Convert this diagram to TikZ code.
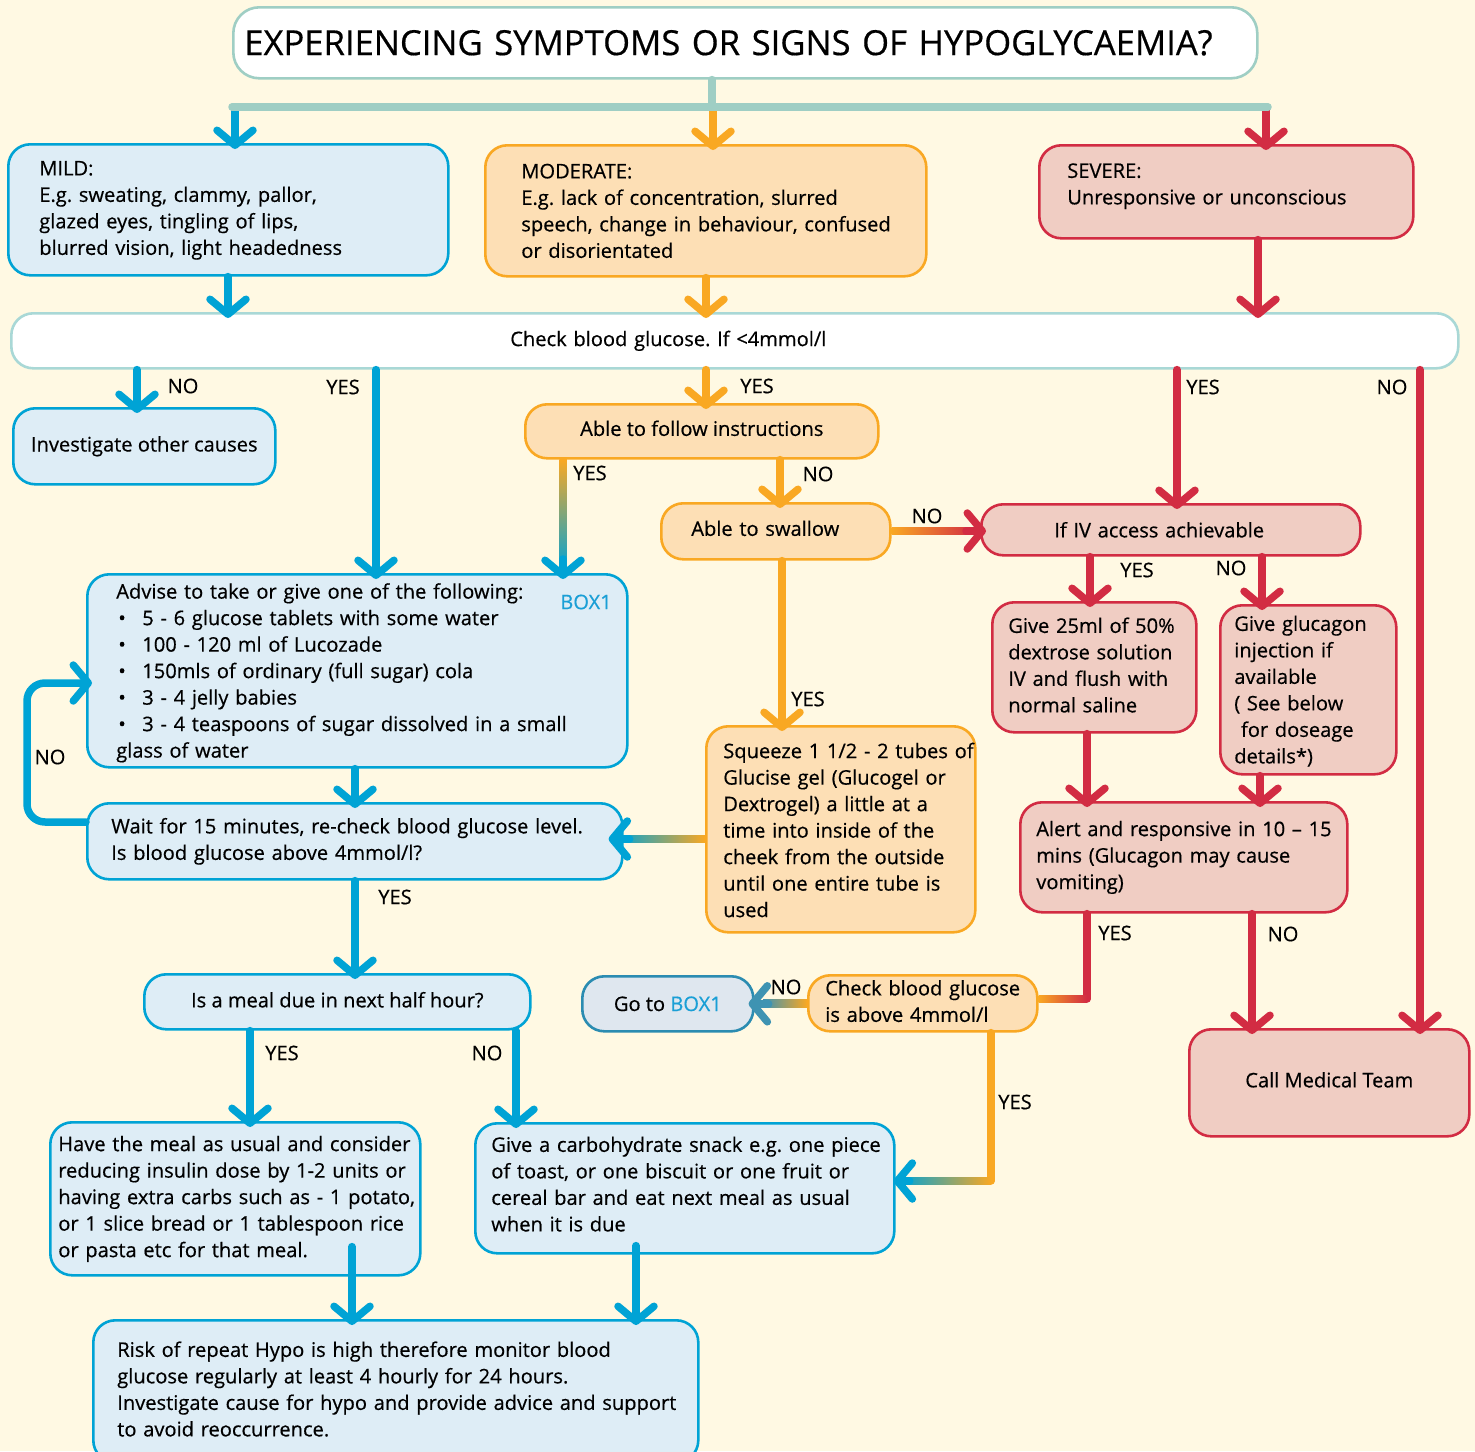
\documentclass[tikz,border=0pt]{standalone}
\usepackage{fontspec}
\setmainfont{Open Sans}[FakeBold=0.5]
\usetikzlibrary{arrows.meta,calc}

\definecolor{paper}{HTML}{FFF9E3}
\definecolor{blueL}{HTML}{00A3D5}
\definecolor{blueF}{HTML}{DEEDF6}
\definecolor{orangeL}{HTML}{F9A823}
\definecolor{orangeF}{HTML}{FDDFB5}
\definecolor{redL}{HTML}{D22C43}
\definecolor{redF}{HTML}{F0CDC3}
\definecolor{tealL}{HTML}{9FCEC4}
\definecolor{barL}{HTML}{A9D8D6}
\definecolor{greyBL}{HTML}{2B8CB1}
\definecolor{greyBF}{HTML}{DFE7EF}
\definecolor{tipB}{HTML}{3E93B2}
\definecolor{boxtext}{HTML}{1A9FD6}

\frenchspacing
\newcommand\txt{\fontsize{20.1}{26.5}\selectfont}
\newcommand\ttl{\fontsize{34.6}{40}\selectfont}
\newcommand\rows[1]{\begin{tabular}{@{}l@{}}#1\end{tabular}}
\newcommand\bul{\makebox[26pt][l]{\hspace{2pt}•}}
% lift text inside a box without changing the box's extent
\newcommand\lift[2]{\raisebox{#1}[\height][\depth]{#2}}

\begin{document}
\begin{tikzpicture}[x=1pt,y=-1pt,
  >={Straight Barb[length=15pt,width=36pt,round]},
  box/.style={line width=2.6pt, rounded corners=22pt, anchor=north west,
    inner ysep=0pt, font=\txt, align=left},
  bbox/.style={box, draw=blueL, fill=blueF},
  obox/.style={box, draw=orangeL, fill=orangeF},
  rbox/.style={box, draw=redL, fill=redF},
  lab/.style={font=\txt, inner sep=0pt},
  wire/.style={line width=7.5pt, line cap=round, line join=round},
  conn/.style={wire, ->, shorten >=-6pt},
  bconn/.style={conn, draw=blueL},
  oconn/.style={conn, draw=orangeL},
  rconn/.style={conn, draw=redL},
]
\fill[paper, use as bounding box] (0,0) rectangle (1475,1451);
\clip (0,0) rectangle (1475,1451);

% ---------- boxes ----------
\node[box, draw=tealL, fill=white, rounded corners=26pt, minimum width=1024,
  minimum height=71, inner xsep=11, text width=1002, font=\ttl] (title) at (232,6)
  {EXPERIENCING SYMPTOMS OR SIGNS OF HYPOGLYCAEMIA?};

\node[bbox, minimum width=440, minimum height=131, inner xsep=31, text width=378] (mild) at (7,143)
  {\rows{MILD:\\E.g. sweating, clammy, pallor,\\glazed eyes, tingling of lips,\\blurred vision, light headedness}};
\node[obox, minimum width=441, minimum height=131, inner xsep=36, text width=369] (moderate) at (484,144)
  {\lift{-2pt}{\rows{MODERATE:\\E.g. lack of concentration, slurred\\speech, change in behaviour, confused\\or disorientated}}};
\node[rbox, minimum width=374, minimum height=93, inner xsep=28, text width=318] (severe) at (1038,144)
  {\lift{6pt}{\rows{SEVERE:\\Unresponsive or unconscious}}};

\node[box, draw=barL, fill=white, minimum width=1447, minimum height=55, inner xsep=499,
  text width=449] (bar) at (10,312) {Check blood glucose. If <4mmol/l};

\node[bbox, minimum width=262, minimum height=76, align=center] (investigate) at (12,407)
  {Investigate other causes};
\node[obox, minimum width=353, minimum height=54, align=center] (follow) at (524,403)
  {\lift{3pt}{Able to follow instructions}};
\node[obox, minimum width=229, minimum height=56, inner xsep=30, text width=169] (swallow) at (660,502)
  {\lift{3pt}{Able to swallow}};
\node[rbox, minimum width=379, minimum height=51, inner xsep=73, text width=233] (iv) at (980,503)
  {If IV access achievable};
\node[rbox, minimum width=204, minimum height=130, inner xsep=16, text width=172] (dex) at (991,601)
  {\rows{Give 25ml of 50\%\\dextrose solution\\IV and flush with\\normal saline}};
\node[rbox, minimum width=176, minimum height=169, inner xsep=14, text width=148] (glucagon) at (1219,604)
  {\lift{-2pt}{\rows{Give glucagon\\injection if\\available\\( See below\\\ for doseage\\details*)}}};
\node[rbox, minimum width=327, minimum height=110, inner xsep=16, text width=295] (alert) at (1019,801)
  {\rows{Alert and responsive in 10 – 15\\mins (Glucagon may cause\\vomiting)}};
\node[rbox, minimum width=280, minimum height=107, align=center] (call) at (1188,1028)
  {\lift{3pt}{Call Medical Team}};
\node[obox, minimum width=229, minimum height=56, inner xsep=17, text width=195] (above) at (807,974)
  {\rows{Check blood glucose\\is above 4mmol/l}};
\node[box, draw=greyBL, fill=greyBF, minimum width=171, minimum height=55, align=center] (gobox) at (581,975)
  {Go to \textcolor{boxtext}{BOX1}};
\node[obox, minimum width=269, minimum height=206, inner xsep=17, text width=235] (squeeze) at (705,725)
  {\lift{-3pt}{\rows{Squeeze 1 1/2 - 2 tubes of\\Glucise gel (Glucogel or\\Dextrogel) a little at a\\time into inside of the\\cheek from the outside\\until one entire tube is\\used}}};
\node[bbox, minimum width=540, minimum height=193, inner xsep=29, text width=482] (advise) at (86,573)
  {\lift{-2pt}{\rows{Advise to take or give one of the following:\\\bul 5 - 6 glucose tablets with some water\\\bul 100 - 120 ml of Lucozade\\\bul 150mls of ordinary (full sugar) cola\\\bul 3 - 4 jelly babies\\\bul 3 - 4 teaspoons of sugar dissolved in a small\\glass of water}}};
\node[lab, text=boxtext] (box1) at (586,602) {BOX1};
\node[bbox, minimum width=535, minimum height=76, inner xsep=24, text width=487] (wait) at (86,802)
  {\rows{Wait for 15 minutes, re-check blood glucose level.\\Is blood glucose above 4mmol/l?}};
\node[bbox, minimum width=386, minimum height=55, align=center] (meal) at (143,973)
  {\lift{2pt}{Is a meal due in next half hour?}};
\node[bbox, minimum width=370, minimum height=153, inner xsep=8, text width=354] (havemeal) at (49,1121)
  {\rows{Have the meal as usual and consider\\reducing insulin dose by 1-2 units or\\having extra carbs such as - 1 potato,\\or 1 slice bread or 1 tablespoon rice\\or pasta etc for that meal.}};
\node[bbox, minimum width=419, minimum height=130, inner xsep=16, text width=387] (carb) at (474,1122)
  {\lift{2pt}{\rows{Give a carbohydrate snack e.g. one piece\\of toast, or one biscuit or one fruit or\\cereal bar and eat next meal as usual\\when it is due}}};
\node[bbox, minimum width=605, minimum height=142, inner xsep=24, text width=557] (risk) at (92,1319)
  {\rows{Risk of repeat Hypo is high therefore monitor blood\\glucose regularly at least 4 hourly for 24 hours.\\Investigate cause for hypo and provide advice and support\\to avoid reoccurrence.}};

% ---------- lanes and bends ----------
\coordinate (tj) at (712,107);
\coordinate (tl) at (232,107);
\coordinate (tr) at (1268,107);
\coordinate (dmild) at (235,107);
\coordinate (dmod) at (713,107);
\coordinate (dsev) at (1266,107);
\coordinate (lmild) at (228,0);
\coordinate (lmod) at (706,0);
\coordinate (lsev) at (1258,0);
\coordinate (lno) at (137,0);
\coordinate (lyes) at (376,0);
\coordinate (liv) at (1177,0);
\coordinate (lcall) at (1420,0);
\coordinate (lbox) at (563,0);
\coordinate (lswl) at (780,0);
\coordinate (lsq) at (782,0);
\coordinate (ldex) at (1090,0);
\coordinate (lglu) at (1262,0);
\coordinate (ldex2) at (1087,0);
\coordinate (lglu2) at (1260,0);
\coordinate (lalno) at (1252,0);
\coordinate (lab) at (991,0);
\coordinate (lwait) at (355,0);
\coordinate (lmyes) at (250,0);
\coordinate (lmno) at (516,0);
\coordinate (lrisk1) at (352,0);
\coordinate (lrisk2) at (636,0);
\coordinate (hsq) at (0,839);
\coordinate (hiv) at (0,531);
\coordinate (hal) at (1087,999);
\coordinate (hab) at (991,1181);
\coordinate (lp1) at (27,822);
\coordinate (lp2) at (27,683);

% ---------- connectors ----------
\draw[bconn] (dmild) -- (dmild |- mild.north);
\draw[oconn] (dmod) -- (dmod |- moderate.north);
\draw[rconn] (dsev) -- (dsev |- severe.north);
\draw[wire, draw=tealL] (title.south -| tj) -- (tj);
\draw[wire, draw=tealL] (tl) -- (tr);

\draw[bconn] (lmild |- mild.south) -- (lmild |- bar.north);
\draw[oconn] (lmod |- moderate.south) -- (lmod |- bar.north);
\draw[rconn] (lsev |- severe.south) -- (lsev |- bar.north);

\draw[bconn] (lno |- bar.south) -- (lno |- investigate.north);
\draw[bconn] (lyes |- bar.south) -- (lyes |- advise.north);
\draw[oconn] (lmod |- bar.south) -- (lmod |- follow.north);
\draw[rconn] (liv |- bar.south) -- (liv |- iv.north);
\draw[rconn] (lcall |- bar.south) -- (lcall |- call.north);

% follow -> BOX1, orange fading to blue
\shade[top color=orangeL, bottom color=blueL]
  ($(lbox |- follow.south)+(-3.75,0)$) rectangle ($(lbox |- advise.north)+(3.75,-2)$);
\draw[bconn] ($(lbox |- advise.north)+(0,-14)$) -- (lbox |- advise.north);
\draw[oconn] (lswl |- follow.south) -- (lswl |- swallow.north);

% swallow -> IV, orange fading to red
\shade[left color=orangeL, right color=redL]
  ($(hiv -| swallow.east)+(0,-3.75)$) rectangle ($(hiv -| iv.west)+(-4,3.75)$);
\draw[rconn] ($(hiv -| iv.west)+(-14,0)$) -- (hiv -| iv.west);

\draw[rconn] (ldex |- iv.south) -- (ldex |- dex.north);
\draw[rconn] (lglu |- iv.south) -- (lglu |- glucagon.north);
\draw[rconn] (ldex2 |- dex.south) -- (ldex2 |- alert.north);
\draw[rconn] (lglu2 |- glucagon.south) -- (lglu2 |- alert.north);
\draw[rconn] (lalno |- alert.south) -- (lalno |- call.north);

% alert YES -> check glucose, red fading to orange
\draw[wire, draw=redL] (ldex2 |- alert.south) -- (hal);
\shade[left color=orangeL, right color=redL]
  ($(hal -| above.east)+(0,-3.75)$) rectangle ($(hal)+(0,3.75)$);

% check glucose NO -> BOX1 reminder
\shade[left color=tipB, right color=orangeL]
  ($(above.west)+(-44,-3.75)$) rectangle ($(above.west)+(0,3.75)$);
\draw[conn, draw=tipB] ($(gobox.east)+(14,0)$) -- (gobox.east);

% check glucose YES -> snack
\draw[wire, draw=orangeL] (lab |- above.south) -- (hab);
\shade[left color=blueL, right color=orangeL]
  ($(hab -| carb.east)+(4,-3.75)$) rectangle ($(hab)+(0,3.75)$);
\draw[bconn, shorten >=-2pt] ($(hab -| carb.east)+(14,0)$) -- (hab -| carb.east);

% swallow YES -> gel
\draw[oconn] (lsq |- swallow.south) -- (lsq |- squeeze.north);
\shade[left color=blueL, right color=orangeL]
  ($(hsq -| wait.east)+(-8,-3.75)$) rectangle ($(hsq -| squeeze.west)+(0,3.75)$);
\draw[bconn, shorten >=-15pt] ($(hsq -| wait.east)+(6,0)$) -- (hsq -| wait.east);

% mild branch
\draw[bconn] (lwait |- advise.south) -- (lwait |- wait.north);
\draw[bconn, rounded corners=18pt] (lp1 -| wait.west) -- (lp1) -- (lp2) -- (lp2 -| advise.west);
\draw[bconn] (lwait |- wait.south) -- (lwait |- meal.north);
\draw[bconn] (lmyes |- meal.south) -- (lmyes |- havemeal.north);
\draw[bconn] (lmno |- meal.south) -- (lmno |- carb.north);
\draw[bconn] ($(lrisk1 |- havemeal.south)+(0,-30)$) -- (lrisk1 |- risk.north);
\draw[bconn] ($(lrisk2 |- carb.south)+(0,-9)$) -- (lrisk2 |- risk.north);

% ---------- branch labels ----------
\node[lab] (n1) at (183,386) {NO};
\node[lab] (y1) at (343,387) {YES};
\node[lab] (y2) at (757,386) {YES};
\node[lab] (y3) at (1203,387) {YES};
\node[lab] (n2) at (1392,387) {NO};
\node[lab] (y4) at (590,473) {YES};
\node[lab] (n3) at (818,474) {NO};
\node[lab] (n4) at (927,516) {NO};
\node[lab] (y5) at (1137,570) {YES};
\node[lab] (n5) at (1231,568) {NO};
\node[lab] (y6) at (808,699) {YES};
\node[lab] (n6) at (50,757) {NO};
\node[lab] (y7) at (395,897) {YES};
\node[lab] (y8) at (1115,933) {YES};
\node[lab] (n7) at (1283,934) {NO};
\node[lab] (n8) at (786,987) {NO};
\node[lab] (y9) at (1015,1102) {YES};
\node[lab] (y10) at (282,1053) {YES};
\node[lab] (n9) at (487,1053) {NO};
\end{tikzpicture}
\end{document}
